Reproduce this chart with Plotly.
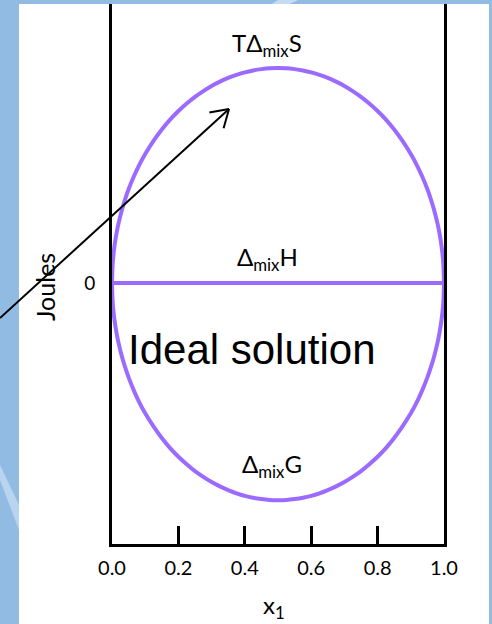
import math
import plotly.graph_objects as go

# Canvas size (px)
W, H = 492, 624

# Mole fraction of component 1
x1 = [0.0, 0.002, 0.005, 0.01, 0.015, 0.02, 0.03, 0.04, 0.05, 0.065, 0.08, 0.1,
      0.125, 0.15, 0.175, 0.2, 0.225, 0.25, 0.275, 0.3, 0.325, 0.35, 0.375, 0.4,
      0.425, 0.45, 0.475, 0.5, 0.525, 0.55, 0.575, 0.6, 0.625, 0.65, 0.675, 0.7,
      0.725, 0.75, 0.775, 0.8, 0.825, 0.85, 0.875, 0.9, 0.92, 0.935, 0.95, 0.96,
      0.97, 0.98, 0.985, 0.99, 0.995, 0.998, 1.0]

# T·Δmix S (upper branch, arbitrary Joule scale)
t_dS = [0.0, 0.089, 0.141, 0.199, 0.243, 0.280, 0.341, 0.392, 0.436, 0.493, 0.543, 0.600,
        0.661, 0.714, 0.760, 0.800, 0.835, 0.866, 0.893, 0.917, 0.937, 0.954, 0.968, 0.980,
        0.989, 0.995, 0.999, 1.000, 0.999, 0.995, 0.989, 0.980, 0.968, 0.954, 0.937, 0.917,
        0.893, 0.866, 0.835, 0.800, 0.760, 0.714, 0.661, 0.600, 0.543, 0.493, 0.436, 0.392,
        0.341, 0.280, 0.243, 0.199, 0.141, 0.089, 0.0]

# Δmix G (lower branch)
d_G = [0.0, -0.089, -0.141, -0.199, -0.243, -0.281, -0.343, -0.394, -0.439, -0.497, -0.548, -0.606,
       -0.667, -0.721, -0.768, -0.808, -0.843, -0.875, -0.902, -0.926, -0.946, -0.963, -0.978, -0.990,
       -0.999, -1.005, -1.009, -1.010, -1.009, -1.005, -0.999, -0.990, -0.978, -0.963, -0.946, -0.926,
       -0.902, -0.875, -0.843, -0.808, -0.768, -0.721, -0.667, -0.606, -0.548, -0.497, -0.439, -0.394,
       -0.343, -0.281, -0.243, -0.199, -0.141, -0.089, 0.0]

# Δmix H is zero everywhere for an ideal solution
h_x = [0.0, 1.0]
d_H = [0.0, 0.0]

x_ticks = [0.0, 0.2, 0.4, 0.6, 0.8, 1.0]
x_tick_text = ["0.0", "0.2", "0.4", "0.6", "0.8", "1.0"]

PURPLE = "#9b6bff"
LABEL_FONT = "Lato"

fig = go.Figure()
for xs, ys in [(x1, t_dS), (x1, d_G), (h_x, d_H)]:
    fig.add_trace(go.Scatter(x=xs, y=ys, mode="lines",
                             line=dict(color=PURPLE, width=4, shape="spline", smoothing=1.0),
                             hoverinfo="skip", showlegend=False))


def px(xp):
    return xp / W


def py(yp):
    return 1 - yp / H


shapes = [
    # white slide panel over the blue background
    dict(type="rect", xref="paper", yref="paper", x0=px(19), x1=px(489), y0=0, y1=py(4),
         fillcolor="white", line=dict(width=0), layer="below"),
    # light streaks in the blue background
    dict(type="path", xref="paper", yref="paper",
         path=f"M 0 {py(465)} L {px(19)} {py(505)} L {px(19)} {py(530)} L 0 {py(480)} Z",
         fillcolor="#b9d4ef", line=dict(width=0), layer="below"),
    dict(type="path", xref="paper", yref="paper",
         path=f"M {px(278)} 1 L {px(298)} 1 L {px(290)} {py(4)} L {px(272)} {py(4)} Z",
         fillcolor="#c4dbf2", line=dict(width=0), layer="below"),
]

# Pointer arrow (tail, head in px) with an open chevron head
tail = (0.0, 318.0)
head = (229.0, 109.0)
shapes.append(dict(type="line", xref="paper", yref="paper",
                   x0=px(tail[0]), y0=py(tail[1]), x1=px(head[0]), y1=py(head[1]),
                   line=dict(color="black", width=2)))
dx, dy = head[0] - tail[0], head[1] - tail[1]
L = math.hypot(dx, dy)
ux, uy = dx / L, dy / L
wing = 20.0
for ang in (math.radians(32), math.radians(-32)):
    bx = -(ux * math.cos(ang) - uy * math.sin(ang)) * wing
    by = -(ux * math.sin(ang) + uy * math.cos(ang)) * wing
    shapes.append(dict(type="line", xref="paper", yref="paper",
                       x0=px(head[0]), y0=py(head[1]),
                       x1=px(head[0] + bx), y1=py(head[1] + by),
                       line=dict(color="black", width=2)))

lbl = dict(family=LABEL_FONT, size=24, color="black")
annotations = [
    dict(x=0.467, y=1.11, xref="x", yref="y", text="TΔ<sub>mix</sub>S", showarrow=False,
         xanchor="center", yanchor="middle", font=lbl),
    dict(x=0.467, y=0.112, xref="x", yref="y", text="Δ<sub>mix</sub>H", showarrow=False,
         xanchor="center", yanchor="middle", font=lbl),
    dict(x=0.482, y=-0.847, xref="x", yref="y", text="Δ<sub>mix</sub>G", showarrow=False,
         xanchor="center", yanchor="middle", font=lbl),
    dict(x=0.422, y=-0.307, xref="x", yref="y", text="Ideal solution", showarrow=False,
         xanchor="center", yanchor="middle",
         font=dict(family="Liberation Sans", size=42, color="black")),
    dict(x=px(45), y=py(287), xref="paper", yref="paper", text="Joules", showarrow=False,
         xanchor="center", yanchor="middle", textangle=-90,
         font=dict(family=LABEL_FONT, size=25, color="black")),
    dict(x=px(274), y=py(606), xref="paper", yref="paper", text="x<sub>1</sub>", showarrow=False,
         xanchor="center", yanchor="middle",
         font=dict(family=LABEL_FONT, size=24, color="black")),
]

fig.update_layout(
    width=W, height=H,
    margin=dict(l=0, r=0, t=0, b=0, pad=0),
    paper_bgcolor="#92bbe4",
    plot_bgcolor="rgba(0,0,0,0)",
    shapes=shapes,
    annotations=annotations,
    xaxis=dict(domain=[px(112), px(444)], range=[0, 1], showgrid=False, zeroline=False,
               automargin=False,
               showline=True, linecolor="black", linewidth=3, mirror=False,
               ticks="inside", ticklen=18, tickwidth=3, tickcolor="black",
               tickvals=x_ticks, ticktext=x_tick_text, ticklabelstandoff=4,
               tickfont=dict(family=LABEL_FONT, size=20, color="black")),
    yaxis=dict(domain=[py(544), py(4)], range=[-1.214, 1.298], showgrid=False, zeroline=False,
               automargin=False,
               showline=True, linecolor="black", linewidth=3, mirror=True,
               ticks="", tickvals=[0], ticktext=["0"], ticklabelstandoff=10,
               tickfont=dict(family=LABEL_FONT, size=19, color="black")),
)

fig.write_html("out.html")
